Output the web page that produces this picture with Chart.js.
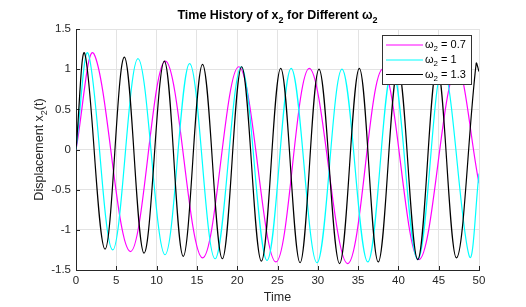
<!DOCTYPE html>
<html>
<head>
<meta charset="utf-8">
<script src="https://cdn.jsdelivr.net/npm/chart.js@4.4.1/dist/chart.umd.min.js"></script>
<style>
html,body{margin:0;padding:0;background:#fff;}
#wrap{width:526px;height:307px;position:relative;}
</style>
</head>
<body>
<div id="wrap"><canvas id="c" width="526" height="307"></canvas></div>
<script>
// ---- Data (start, peaks/troughs, end value) ----
const seriesNames = ['0.7', '1', '1.3'];
const seriesColors = ['#ff00ff', '#00ffff', '#000000'];

const tMagenta = [0, 2.23, 6.75, 11.1, 15.7, 20.2, 24.8, 28.95, 33.7, 38.05, 42.55, 47.1, 50];
const yMagenta = [0, 1.19, -1.27, 1.10, -1.35, 1.03, -1.40, 1.01, -1.42, 1.00, -1.37, 1.02, -0.42];

const tCyan = [0, 1.53, 4.55, 7.7, 11.04, 14.1, 17.25, 20.5, 23.7, 26.7, 29.9, 33.0, 36.2, 39.25, 42.4, 45.5, 48.8, 50];
const yCyan = [0, 1.19, -1.25, 1.13, -1.31, 1.07, -1.36, 1.03, -1.38, 1.01, -1.41, 1.00, -1.40, 1.01, -1.37, 1.03, -1.33, -0.3];

const tBlack = [0, 1.1, 3.6, 6.0, 8.44, 10.96, 13.3, 15.7, 18.15, 20.55, 23.0, 25.4, 27.8, 30.15, 32.7, 35.15, 37.5, 39.95, 42.4, 44.8, 47.2, 49.65, 50];
const yBlack = [0, 1.19, -1.24, 1.15, -1.29, 1.10, -1.33, 1.06, -1.36, 1.03, -1.39, 1.01, -1.41, 1.00, -1.42, 1.01, -1.40, 1.02, -1.37, 1.04, -1.35, 1.07, 0.97];

const xTicks = [0, 5, 10, 15, 20, 25, 30, 35, 40, 45, 50];
const yTicks = [-1.5, -1, -0.5, 0, 0.5, 1, 1.5];

const FONT = '"Liberation Sans", Arial, Helvetica, sans-serif';
const AXIS = '#262626';

function pts(t, y) { return t.map((v, i) => ({ x: v, y: y[i] })); }

// draw text with subscripts: parts = [[text, isSub], ...]
function richWidth(ctx, parts, size, weight) {
  let w = 0;
  for (const [t, sub] of parts) {
    ctx.font = weight + ' ' + (sub ? size * 0.72 : size) + 'px ' + FONT;
    w += ctx.measureText(t).width;
  }
  return w;
}
function drawRich(ctx, parts, x, y, size, weight, align) {
  const w = richWidth(ctx, parts, size, weight);
  let cx = align === 'center' ? x - w / 2 : x;
  ctx.textBaseline = 'alphabetic';
  ctx.textAlign = 'left';
  for (const [t, sub] of parts) {
    ctx.font = weight + ' ' + (sub ? size * 0.72 : size) + 'px ' + FONT;
    ctx.fillText(t, cx, sub ? y + size * 0.3 : y);
    cx += ctx.measureText(t).width;
  }
}

const decor = {
  id: 'decor',
  beforeDatasetsDraw(chart) {
    const { ctx, chartArea: a, scales } = chart;
    ctx.save();
    ctx.strokeStyle = AXIS;
    ctx.lineWidth = 1;
    // inward tick marks
    ctx.beginPath();
    for (const v of xTicks) {
      const px = Math.round(scales.x.getPixelForValue(v)) + 0.5;
      ctx.moveTo(px, a.bottom); ctx.lineTo(px, a.bottom - 4);
    }
    for (const v of yTicks) {
      const py = Math.round(scales.y.getPixelForValue(v)) + 0.5;
      ctx.moveTo(a.left, py); ctx.lineTo(a.left + 4, py);
    }
    ctx.stroke();
    ctx.restore();
  },
  afterDatasetsDraw(chart) {
    const { ctx, chartArea: a } = chart;
    ctx.save();
    // legend box
    const lx = a.right - 97, ly = a.top + 6, lw = 89, lh = 49;
    ctx.fillStyle = '#ffffff';
    ctx.fillRect(lx, ly, lw, lh);
    ctx.strokeStyle = '#333333';
    ctx.lineWidth = 1;
    ctx.strokeRect(lx + 0.5, ly + 0.5, lw, lh);
    const rows = [10, 25, 39.5];
    seriesNames.forEach((n, i) => {
      const ry = ly + rows[i];
      ctx.strokeStyle = seriesColors[i];
      ctx.lineWidth = 1.2;
      ctx.beginPath();
      ctx.moveTo(lx + 4, ry); ctx.lineTo(lx + 41, ry);
      ctx.stroke();
      ctx.fillStyle = '#000';
      drawRich(ctx, [['\u03C9', false], ['2', true], [' = ' + n, false]], lx + 43, ry + 3, 11, 'normal', 'left');
    });
    ctx.restore();
  },
  afterDraw(chart) {
    const { ctx, chartArea: a } = chart;
    ctx.save();
    ctx.fillStyle = '#000';
    const cx = (a.left + a.right) / 2;
    drawRich(ctx, [['Time History of x', false], ['2', true], [' for Different \u03C9', false], ['2', true]], cx, 19, 12.5, 'bold', 'center');
    ctx.fillStyle = AXIS;
    drawRich(ctx, [['Time', false]], cx, 301, 12.5, 'normal', 'center');
    ctx.translate(43, (a.top + a.bottom) / 2);
    ctx.rotate(-Math.PI / 2);
    drawRich(ctx, [['Displacement x', false], ['2', true], ['(t)', false]], 0, 0, 12.5, 'normal', 'center');
    ctx.restore();
  }
};

new Chart(document.getElementById('c'), {
  type: 'line',
  data: {
    datasets: [
      { label: '\u03C9\u2082 = ' + seriesNames[0], data: pts(tMagenta, yMagenta), borderColor: seriesColors[0], order: 3 },
      { label: '\u03C9\u2082 = ' + seriesNames[1], data: pts(tCyan, yCyan), borderColor: seriesColors[1], order: 2 },
      { label: '\u03C9\u2082 = ' + seriesNames[2], data: pts(tBlack, yBlack), borderColor: seriesColors[2], order: 1 }
    ]
  },
  options: {
    responsive: false,
    animation: false,
    elements: {
      line: { borderWidth: 1.2, tension: 0.36, cubicInterpolationMode: 'default', fill: false, capBezierPoints: false },
      point: { radius: 0, hoverRadius: 0 }
    },
    layout: { padding: { top: 29, right: 47, bottom: 0, left: 0 } },
    plugins: { legend: { display: false }, title: { display: false }, tooltip: { enabled: false } },
    scales: {
      x: {
        type: 'linear', min: 0, max: 50,
        afterBuildTicks: s => { s.ticks = xTicks.map(v => ({ value: v })); },
        afterFit: s => { s.height = 37; },
        ticks: { color: AXIS, font: { family: FONT, size: 11.5 }, padding: 4, maxRotation: 0, callback: v => String(v) },
        grid: { color: '#e3e3e3', drawTicks: false },
        border: { color: AXIS, width: 1 }
      },
      y: {
        type: 'linear', min: -1.5, max: 1.5,
        afterBuildTicks: s => { s.ticks = yTicks.map(v => ({ value: v })); },
        afterFit: s => { s.width = 76; },
        ticks: { color: AXIS, font: { family: FONT, size: 11.5 }, padding: 5, callback: v => String(v) },
        grid: { color: '#e3e3e3', drawTicks: false },
        border: { color: AXIS, width: 1 }
      }
    }
  },
  plugins: [decor]
});
</script>
</body>
</html>
